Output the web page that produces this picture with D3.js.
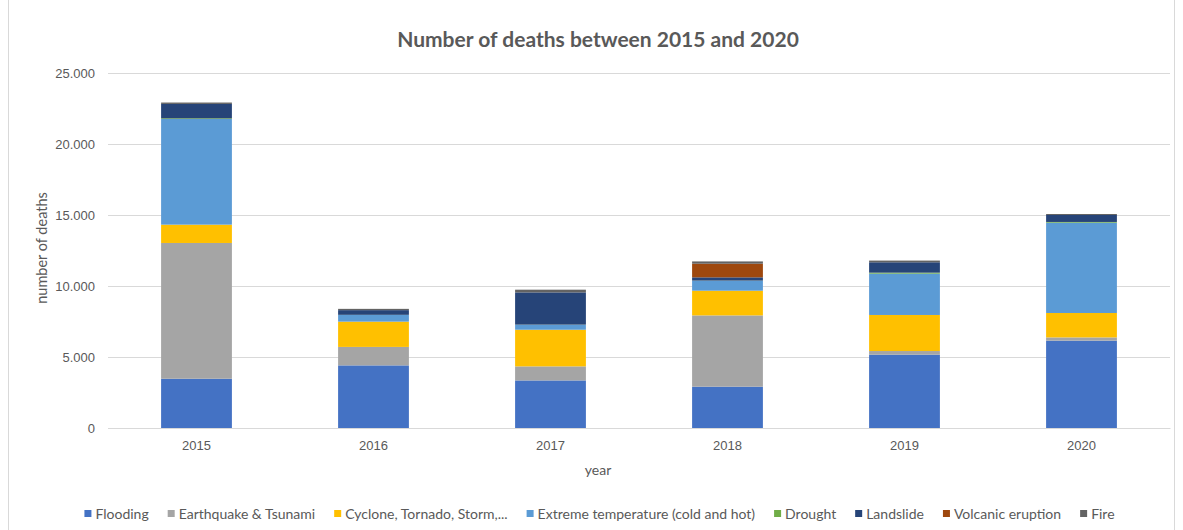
<!DOCTYPE html>
<html lang="en">
  <head>
    <meta charset="UTF-8" />
    <title>Number of deaths between 2015 and 2020</title>
    <style>
      body {
        margin: 0;
        background: #ffffff;
        font-family: Lato, "Liberation Sans", sans-serif;
      }
      .tick text {
        fill: #595959;
        font-size: 13px;
      }
    </style>
    <script src="https://d3js.org/d3.v7.min.js"></script>
  </head>
  <body>
    <svg id="chart"></svg>
    <script>
      const years = ["2015", "2016", "2017", "2018", "2019", "2020"];
      const seriesNames = [
        "Flooding",
        "Earthquake & Tsunami",
        "Cyclone, Tornado, Storm,...",
        "Extreme temperature (cold and hot)",
        "Drought",
        "Landslide",
        "Volcanic eruption",
        "Fire",
      ];
      const flooding = [3470, 4410, 3350, 2910, 5160, 6150];
      const earthquake = [9560, 1300, 990, 5020, 260, 230];
      const cyclone = [1290, 1780, 2580, 1740, 2540, 1720];
      const extremeTemp = [7440, 470, 350, 700, 2910, 6360];
      const drought = [50, 10, 10, 10, 70, 50];
      const landslide = [1010, 330, 2270, 230, 730, 490];
      const volcanic = [0, 0, 0, 960, 0, 0];
      const fire = [100, 90, 190, 160, 120, 70];
      const yTicks = [0, 5000, 10000, 15000, 20000, 25000];

      const colors = [
        "#4472c4",
        "#a5a5a5",
        "#ffc000",
        "#5b9bd5",
        "#70ad47",
        "#264478",
        "#9e480e",
        "#636363",
      ];

      const seriesValues = [
        flooding,
        earthquake,
        cyclone,
        extremeTemp,
        drought,
        landslide,
        volcanic,
        fire,
      ];

      // rows for d3.stack
      const table = years.map((y, i) => {
        const row = { year: y };
        seriesNames.forEach((s, j) => (row[s] = seriesValues[j][i]));
        return row;
      });

      const width = 1183;
      const height = 530;
      const margin = { top: 73, right: 13, bottom: 102, left: 108 };

      const svg = d3.select("#chart").attr("width", width).attr("height", height);

      // chart frame (only the sides show)
      svg
        .append("g")
        .selectAll("line")
        .data([8.5, 1174.5])
        .join("line")
        .attr("x1", (d) => d)
        .attr("x2", (d) => d)
        .attr("y1", 0)
        .attr("y2", height)
        .attr("stroke", "#d9d9d9");

      const x = d3
        .scaleBand()
        .domain(years)
        .range([margin.left, width - margin.right])
        .paddingInner(0.6)
        .paddingOuter(0.3);

      const y = d3
        .scaleLinear()
        .domain([0, 25000])
        .range([height - margin.bottom, margin.top]);

      const locale = d3.formatLocale({
        decimal: ",",
        thousands: ".",
        grouping: [3],
        currency: ["", ""],
      });
      const fmt = locale.format(",");

      // gridlines + y labels
      const yAxis = svg
        .append("g")
        .attr("transform", `translate(${margin.left},0)`)
        .call(
          d3
            .axisLeft(y)
            .tickValues(yTicks)
            .tickFormat(fmt)
            .tickSize(-(width - margin.left - margin.right))
            .tickPadding(13)
        );
      yAxis.select(".domain").remove();
      yAxis.selectAll(".tick line").attr("stroke", "#d9d9d9");

      const stack = d3.stack().keys(seriesNames);
      const layers = stack(table);

      svg
        .append("g")
        .selectAll("g")
        .data(layers)
        .join("g")
        .attr("fill", (d, i) => colors[i])
        .selectAll("rect")
        .data((d) => d)
        .join("rect")
        .attr("x", (d) => x(d.data.year))
        .attr("width", x.bandwidth())
        .attr("y", (d) => y(d[1]))
        .attr("height", (d) => y(d[0]) - y(d[1]));

      // x axis
      const xAxis = svg
        .append("g")
        .attr("transform", `translate(0,${height - margin.bottom})`)
        .call(d3.axisBottom(x).tickSize(0).tickPadding(13));
      xAxis.select(".domain").attr("stroke", "#d9d9d9");

      // title
      svg
        .append("text")
        .attr("x", 598)
        .attr("y", 47)
        .attr("text-anchor", "middle")
        .attr("fill", "#595959")
        .attr("font-size", "21px")
        .attr("font-weight", "bold")
        .text("Number of deaths between 2015 and 2020");

      // axis titles
      svg
        .append("text")
        .attr("x", 598)
        .attr("y", 475)
        .attr("text-anchor", "middle")
        .attr("fill", "#595959")
        .attr("font-size", "14px")
        .text("year");

      svg
        .append("text")
        .attr("transform", "translate(47,248) rotate(-90)")
        .attr("text-anchor", "middle")
        .attr("fill", "#595959")
        .attr("font-size", "14.5px")
        .text("number of deaths");

      // legend
      const legend = svg.append("g").attr("transform", "translate(0,519)");
      const items = legend
        .selectAll("g")
        .data(seriesNames)
        .join("g");
      items
        .append("rect")
        .attr("width", 7)
        .attr("height", 7)
        .attr("y", -9)
        .attr("fill", (d, i) => colors[i]);
      items
        .append("text")
        .attr("x", 11)
        .attr("y", 0)
        .attr("fill", "#595959")
        .attr("font-size", "14px")
        .text((d) => d);

      const gap = 19;
      let widths = [];
      items.each(function () {
        widths.push(11 + this.querySelector("text").getComputedTextLength());
      });
      const total = d3.sum(widths) + gap * (widths.length - 1);
      let cx = (width - total) / 2 + 8;
      items.attr("transform", (d, i) => {
        const t = `translate(${cx},0)`;
        cx += widths[i] + gap;
        return t;
      });
    </script>
  </body>
</html>
